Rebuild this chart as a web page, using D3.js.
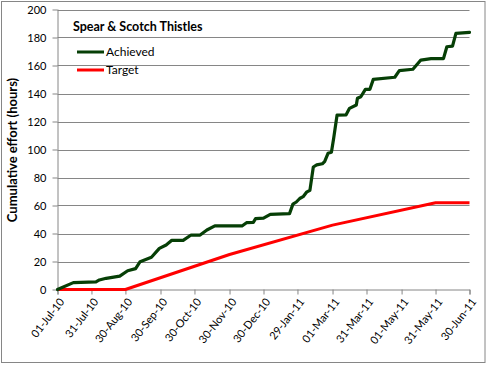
<!DOCTYPE html>
<html><head><meta charset="utf-8">
<script src="https://cdn.jsdelivr.net/npm/d3@7"></script>
<style>body{margin:0;background:#fff}svg{display:block}</style>
</head><body>
<script>
const chartTitle = "Spear & Scotch Thistles";
const yTitle = "Cumulative effort (hours)";
const seriesNames = ["Achieved", "Target"];
const yTicks = [0,20,40,60,80,100,120,140,160,180,200];
const xTickLabels = ["01-Jul-10","31-Jul-10","30-Aug-10","30-Sep-10","30-Oct-10","30-Nov-10","30-Dec-10","29-Jan-11","01-Mar-11","31-Mar-11","01-May-11","31-May-11","30-Jun-11"];

const achievedDates = ["2010-07-01","2010-07-15","2010-08-04","2010-08-07","2010-08-13","2010-08-25","2010-09-01","2010-09-08","2010-09-12","2010-09-22","2010-09-29","2010-10-05","2010-10-10","2010-10-20","2010-10-27","2010-11-04","2010-11-10","2010-11-17","2010-12-11","2010-12-15","2010-12-21","2010-12-23","2010-12-30","2011-01-05","2011-01-22","2011-01-25","2011-01-28","2011-01-31","2011-02-03","2011-02-06","2011-02-09","2011-02-12","2011-02-15","2011-02-20","2011-02-22","2011-02-25","2011-02-28","2011-03-02","2011-03-05","2011-03-13","2011-03-16","2011-03-22","2011-03-23","2011-03-26","2011-03-30","2011-04-03","2011-04-06","2011-04-25","2011-04-29","2011-05-11","2011-05-18","2011-05-27","2011-06-07","2011-06-10","2011-06-15","2011-06-18","2011-06-30"];
const achievedValues = [0,4.9,5.4,6.8,8,9.6,13.4,14.9,19.9,23,29.4,31.8,35.1,35.1,38.9,38.9,42.5,45.4,45.4,47.7,48,50.6,51,53.7,54.2,61,62.5,65,66.3,69.5,70.8,87.5,89,89.8,91.3,97.3,98,108,124.6,124.8,129.4,131.8,136.6,137.7,143,143,150.1,151.6,156.3,157.3,163.9,164.9,164.9,173.4,173.9,183,183.7];

const targetDates = ["2010-07-01","2010-08-30","2010-11-30","2011-03-01","2011-05-31","2011-06-30"];
const targetValues = [0,0,25,46,62,62];

const W = 487, H = 365;
const parse = d3.timeParse("%Y-%m-%d");
const parseTick = d3.timeParse("%d-%b-%y");
const margin = {left:57.5, right:W-469.5, top:9.5, bottom:H-289.5};

const svg = d3.select("body").append("svg").attr("width", W).attr("height", H);
svg.append("rect").attr("x",1.5).attr("y",1.5).attr("width",483.5).attr("height",361)
  .attr("fill","#fff").attr("stroke","#868686").attr("stroke-width",1);

const x = d3.scaleTime().domain([parse("2010-07-01"), parse("2011-06-30")]).range([margin.left, W-margin.right]);
const y = d3.scaleLinear().domain([0,200]).range([H-margin.bottom, margin.top]);

// gridlines
svg.append("g").selectAll("line").data(yTicks.filter(d=>d>0)).join("line")
  .attr("x1", margin.left).attr("x2", W-margin.right)
  .attr("y1", d=>Math.round(y(d))+0.5).attr("y2", d=>Math.round(y(d))+0.5)
  .attr("stroke","#868686").attr("stroke-width",1);

const font = "Lato, 'Liberation Sans', sans-serif";

// y axis
const yAxis = svg.append("g").attr("transform",`translate(${margin.left},0)`)
  .call(d3.axisLeft(y).tickValues(yTicks).tickSize(5).tickPadding(6).tickFormat(d3.format("d")));
yAxis.select(".domain").attr("stroke","#868686").attr("d",`M0.5,${y(0)}V${y(200)}`);
yAxis.selectAll(".tick line").attr("stroke","#868686");
yAxis.selectAll("text").attr("font-family",font).attr("font-size","11px").attr("fill","#000").attr("dy","0.35em");

// x axis
const xTickDates = xTickLabels.map(s=>parseTick(s));
const xAxis = svg.append("g").attr("transform",`translate(0,${y(0)})`)
  .call(d3.axisBottom(x).tickValues(xTickDates).tickSize(5).tickFormat((d,i)=>xTickLabels[i]));
xAxis.select(".domain").attr("stroke","#868686");
xAxis.selectAll(".tick line").attr("stroke","#868686");
xAxis.selectAll("text").attr("font-family",font).attr("font-size","11px").attr("fill","#000")
  .attr("text-anchor","end").attr("dy","0.35em")
  .attr("transform","translate(4,10) rotate(-52)").attr("y",0).attr("x",0);

// lines
const line = d3.line().x(d=>x(d[0])).y(d=>y(d[1]));
const tData = targetDates.map((d,i)=>[parse(d), targetValues[i]]);
const aData = achievedDates.map((d,i)=>[parse(d), achievedValues[i]]);
svg.append("path").datum(tData).attr("d",line).attr("fill","none")
  .attr("stroke","#ff0000").attr("stroke-width",3).attr("stroke-linejoin","round");
svg.append("path").datum(aData).attr("d",line).attr("fill","none")
  .attr("stroke","#063f06").attr("stroke-width",3.2).attr("stroke-linejoin","round").attr("stroke-linecap","round");

// title
svg.append("text").attr("x",73).attr("y",31).text(chartTitle)
  .attr("font-family",font).attr("font-weight","bold").attr("font-size","12.5px").attr("fill","#000");

// legend
const legColors = ["#063f06","#ff0000"];
const leg = svg.append("g");
seriesNames.forEach((n,i)=>{
  const yy = 52 + i*18;
  leg.append("line").attr("x1",77).attr("x2",104).attr("y1",yy).attr("y2",yy)
    .attr("stroke",legColors[i]).attr("stroke-width",3);
  leg.append("text").attr("x",106).attr("y",yy+4).text(n)
    .attr("font-family",font).attr("font-size","12px").attr("fill","#000");
});

// y title
svg.append("text").attr("transform",`translate(17,150) rotate(-90)`)
  .attr("text-anchor","middle").text(yTitle)
  .attr("font-family",font).attr("font-weight","bold").attr("font-size","13px").attr("fill","#000");
</script>
</body></html>
